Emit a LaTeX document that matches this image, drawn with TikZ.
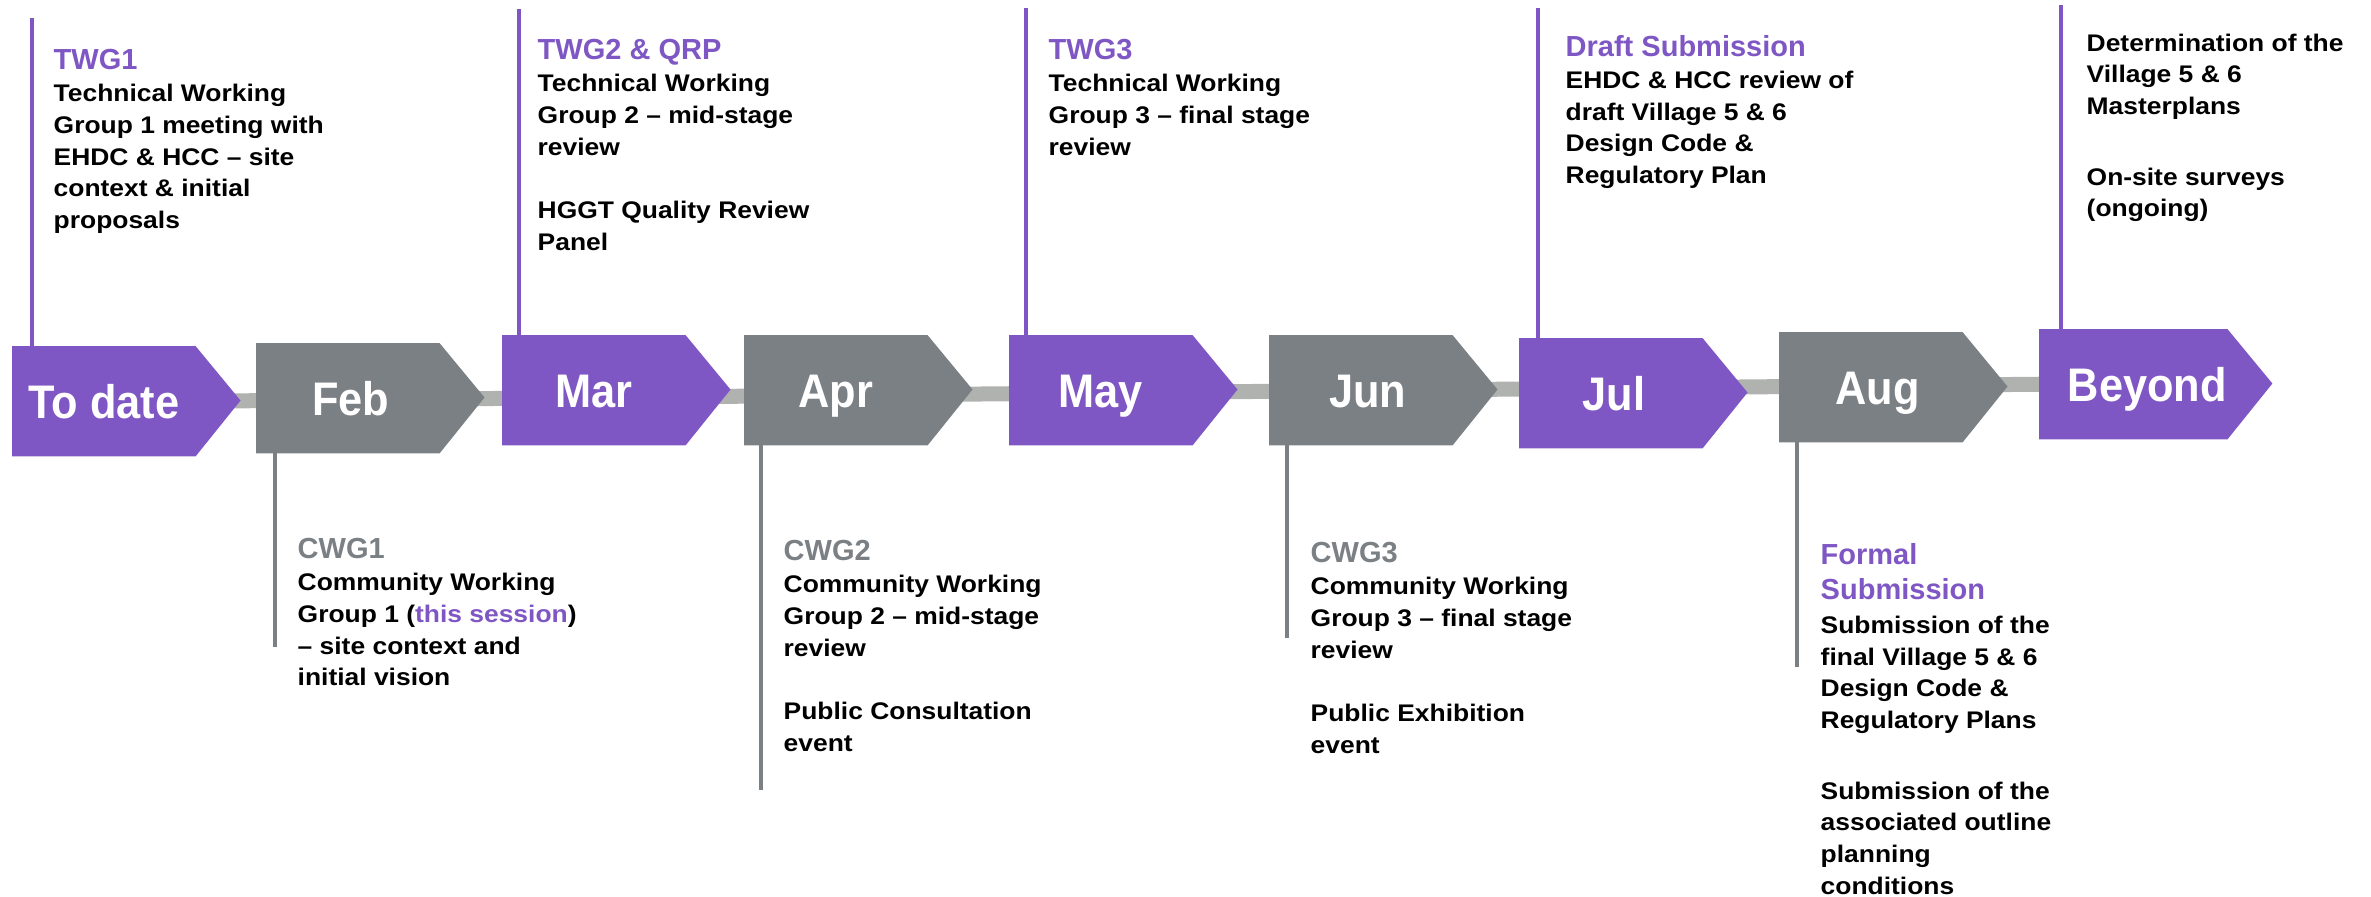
\documentclass[tikz,border=0pt]{standalone}
\usepackage{fontspec}
\setmainfont{Liberation Sans}
\newfontfamily\monthfont{Liberation Sans}[FakeStretch=0.92]
\newfontfamily\notefont{Liberation Sans}[FakeStretch=1.1]
\usetikzlibrary{backgrounds}

\definecolor{twgpurple}{RGB}{127,87,196}
\definecolor{cwggrey}{RGB}{123,128,133}
\definecolor{bargrey}{RGB}{176,178,175}

\newcommand{\twghead}[1]{{\normalfont\bfseries\fontsize{8.25}{9.02}\selectfont\color{twgpurple}#1}}
\newcommand{\cwghead}[1]{{\normalfont\bfseries\fontsize{8.25}{9.02}\selectfont\color{cwggrey}#1}}

\begin{document}
\begin{tikzpicture}[x=0.01cm,y=-0.01cm]

\tikzset{month/.style = {anchor=north west, minimum width=1.82cm, minimum height=1.09cm, inner sep=0, text height=0.34cm, text depth=0pt, text=white, font=\monthfont\bfseries\fontsize{13.4}{16}\selectfont}}
\tikzset{note/.style = {anchor=north west, inner sep=0, align=left, font=\notefont\bfseries\fontsize{6.83}{9.02}\selectfont}}
\tikzset{tstem/.style = {twgpurple, line width=0.04cm}}
\tikzset{cstem/.style = {cwggrey, line width=0.04cm}}
\tikzset{bar/.style = {bargrey, line width=0.15cm}}

\useasboundingbox (0,0) rectangle (2371,896);

%months
\node[month] (todate) at (12,346) {To date};
\node[month] (feb) at (256,343) {\hspace*{0.06cm}Feb};
\node[month] (mar) at (502,335) {Mar};
\node[month] (apr) at (744,335) {Apr};
\node[month] (may) at (1009,335) {May};
\node[month] (jun) at (1269,335) {\hspace*{0.14cm}Jun};
\node[month] (jul) at (1519,338) {\hspace*{0.06cm}Jul};
\node[month] (aug) at (1779,332) {\hspace*{0.14cm}Aug};
\node[month] (beyond) at (2039,329) {\hspace*{0.28cm}Beyond};

%arrow shapes and timeline bar
\begin{scope}[on background layer]
\draw[bar] (todate.east) -- (beyond.west);
\foreach \n/\c in {todate/twgpurple, feb/cwggrey, mar/twgpurple, apr/cwggrey, may/twgpurple, jun/cwggrey, jul/twgpurple, aug/cwggrey, beyond/twgpurple}
  \fill[\c] (\n.north west) -- (\n.north east) -- ++(45,54.5) -- (\n.south east) -- (\n.south west) -- cycle;
\end{scope}

%stems
\coordinate (twg1top) at (32,18);
\coordinate (twg2top) at (519,9);
\coordinate (twg3top) at (1026,8);
\coordinate (drafttop) at (1538,8);
\coordinate (beyondtop) at (2061,5);
\coordinate (cwg1end) at (275,647);
\coordinate (cwg2end) at (761,790);
\coordinate (cwg3end) at (1287,638);
\coordinate (formalend) at (1797,667);
\draw[tstem] (twg1top) -- (twg1top |- todate.north);
\draw[tstem] (twg2top) -- (twg2top |- mar.north);
\draw[tstem] (twg3top) -- (twg3top |- may.north);
\draw[tstem] (drafttop) -- (drafttop |- jul.north);
\draw[tstem] (beyondtop) -- (beyondtop |- beyond.north);
\draw[cstem] (cwg1end |- feb.south) -- (cwg1end);
\draw[cstem] (cwg2end |- apr.south) -- (cwg2end);
\draw[cstem] (cwg3end |- jun.south) -- (cwg3end);
\draw[cstem] (formalend |- aug.south) -- (formalend);

%notes above
\node[note] (twg1) at (53,49) {\twghead{TWG1}\\Technical Working\\Group 1 meeting with\\EHDC \& HCC – site\\context \& initial\\proposals};
\node[note] (twg2) at (537,39) {\twghead{TWG2 \& QRP}\\Technical Working\\Group 2 – mid-stage\\review\\ \\HGGT Quality Review\\Panel};
\node[note] (twg3) at (1048,39) {\twghead{TWG3}\\Technical Working\\Group 3 – final stage\\review};
\node[note] (draft) at (1565,35) {\twghead{Draft Submission}\\EHDC \& HCC review of\\draft Village 5 \& 6\\Design Code \&\\Regulatory Plan};
\node[note] (determ) at (2086,33) {Determination of the\\Village 5 \& 6\\Masterplans\\[2pt] \\On-site surveys\\(ongoing)};

%notes below
\node[note] (cwg1) at (297,538) {\cwghead{CWG1}\\Community Working\\Group 1 ({\color{twgpurple}this session})\\– site context and\\initial vision};
\node[note] (cwg2) at (783,540) {\cwghead{CWG2}\\Community Working\\Group 2 – mid-stage\\review\\ \\Public Consultation\\event};
\node[note] (cwg3) at (1310,542) {\cwghead{CWG3}\\Community Working\\Group 3 – final stage\\review\\ \\Public Exhibition\\event};
\node[note] (formal) at (1820,543) {\twghead{Formal}\\[1pt]\twghead{Submission}\\[0.5pt]Submission of the\\final Village 5 \& 6\\Design Code \&\\Regulatory Plans\\[2pt] \\Submission of the\\associated outline\\planning\\conditions};

\end{tikzpicture}
\end{document}
